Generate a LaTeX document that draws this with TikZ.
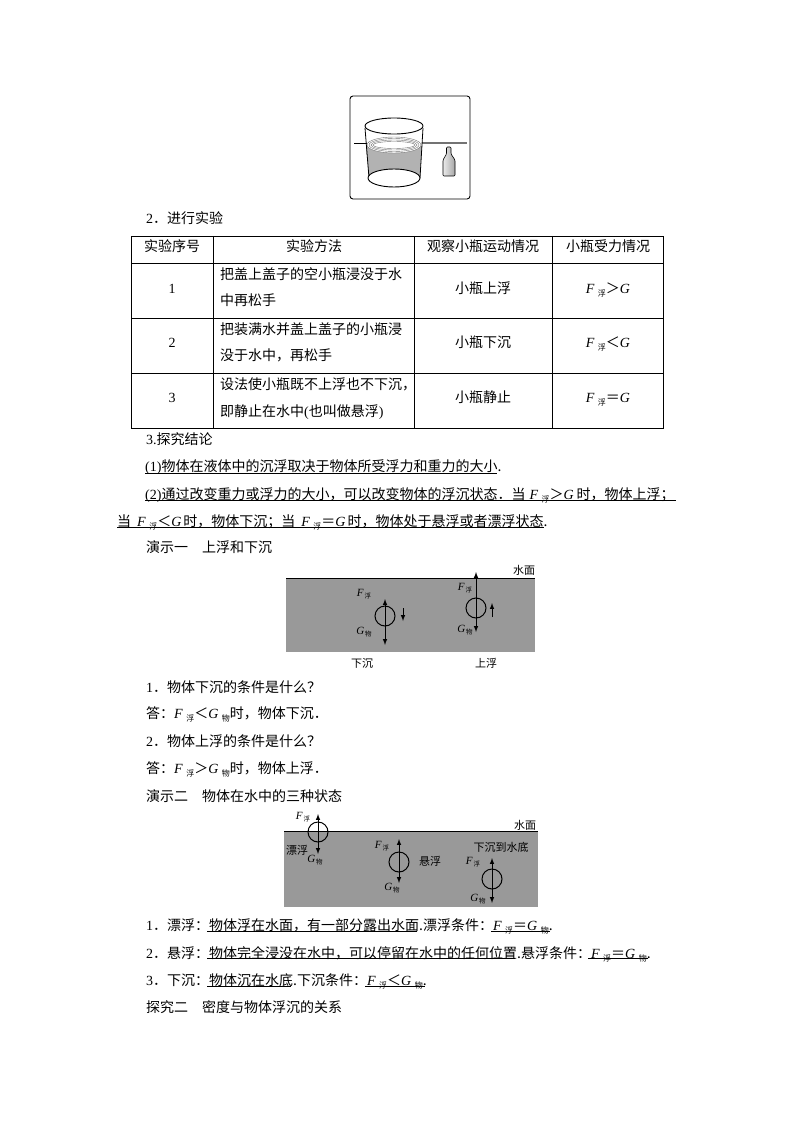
\documentclass[tikz,border=0pt]{standalone}
\usepackage{fontspec}
\setmainfont{Noto Sans CJK SC}
\newfontfamily\lat{Liberation Serif}
\usepackage{tikz}
\newcommand{\Lt}[1]{{\lat #1}}
\newcommand{\Fu}{{\lat\itshape F}\hspace{3.5pt}\raisebox{-3pt}{\fontsize{8}{8}\selectfont 浮}}
\newcommand{\Gv}{{\lat\itshape G}}
\newcommand{\Gw}{{\lat\itshape G}\hspace{3.5pt}\raisebox{-3pt}{\fontsize{8}{8}\selectfont 物}}
\newcommand{\Fs}{{\lat\itshape F}\hspace{1pt}\raisebox{-2pt}{\fontsize{6.5}{6.5}\selectfont 浮}}
\newcommand{\Gs}{{\lat\itshape G}\hspace{1pt}\raisebox{-2pt}{\fontsize{6.5}{6.5}\selectfont 物}}
\tikzset{
  body/.style={anchor=west,inner sep=0pt,text height=12pt,text depth=1pt,font=\fontsize{14}{14}\selectfont},
  cell/.style={inner sep=0pt,text height=12pt,text depth=1pt,font=\fontsize{14}{14}\selectfont},
  tag/.style={inner sep=0pt,font=\fontsize{11}{11}\selectfont},
  rul/.style={line width=0.9pt},
  water/.style={fill=black!40},
  ball/.style={circle,draw,line width=1pt,minimum size=20pt,inner sep=0pt},
  force/.style={line width=1pt,-latex},
  hint/.style={line width=1pt,-latex}
}
\begin{document}
\begin{tikzpicture}[x=1pt,y=-1pt]
\useasboundingbox (0,0) rectangle (794,1123);
% beaker
\draw[line width=0.9pt,rounded corners=3pt] (350,96) rectangle (470,199);
\shade[left color=black!30,middle color=white,right color=black!30] (366,146) -- (369,178) -- (420,178) -- (422,146) -- cycle;
\draw[line width=0.7pt] (354,143) -- (367,143);
\draw[black!55,line width=1.3pt] (422,143) -- (467,143);
\fill[white] (394,145) ellipse (27 and 8);
\foreach \ra/\rb in {27/8,25/6.5,23/5,21/3.5}
  \draw[black!55,line width=0.4pt] (394,145) ellipse [x radius=\ra,y radius=\rb];
\draw[line width=0.9pt] (394,126) ellipse (29 and 8);
\draw[line width=0.8pt] (365,128) -- (369,178);
\draw[line width=0.8pt] (423,128) -- (420,178);
\draw[fill=white,line width=0.9pt] (394,178) ellipse (26 and 9);
% bottle
\shade[left color=black!8,right color=black!35,draw=black,line width=0.6pt,rounded corners=1pt] (446.5,147) -- (451,147) -- (451,154) -- (455,160) -- (455,176) -- (443,176) -- (443,160) -- (446.5,154) -- cycle;
% table
\draw[rul] (131,236) rectangle (663,428);
\foreach \ypos in {263,318,373}
  \draw[rul] (131,\ypos) -- (663,\ypos);
\foreach \xpos in {213,414,552}
  \draw[rul] (\xpos,236) -- (\xpos,428);
\node[body] (head) at (146,218) {\Lt{2}．进行实验};
\node[cell] (th1) at (172,246) {实验序号};
\node[cell] (th2) at (314,246) {实验方法};
\node[cell] (th3) at (483,246) {观察小瓶运动情况};
\node[cell] (th4) at (608,246) {小瓶受力情况};
\node[cell] (no1) at (172,288) {\Lt{1}};
\node[cell] (no2) at (172,342) {\Lt{2}};
\node[cell] (no3) at (172,397) {\Lt{3}};
\node[body] (way1a) at (220,274) {把盖上盖子的空小瓶浸没于水};
\node[body] (way1b) at (220,300) {中再松手};
\node[body] (way2a) at (220,329) {把装满水并盖上盖子的小瓶浸};
\node[body] (way2b) at (220,355) {没于水中，再松手};
\node[body] (way3a) at (220,384) {设法使小瓶既不上浮也不下沉，};
\node[body] (way3b) at (220,411) {即静止在水中\Lt{(}也叫做悬浮\Lt{)}};
\node[cell] (see1) at (483,288) {小瓶上浮};
\node[cell] (see2) at (483,342) {小瓶下沉};
\node[cell] (see3) at (483,397) {小瓶静止};
\node[cell] (res1) at (608,288) {\Fu＞\Gv};
\node[cell] (res2) at (608,342) {\Fu＜\Gv};
\node[cell] (res3) at (608,397) {\Fu＝\Gv};
% conclusions
\node[body] (lineA) at (146,439) {\Lt{3.}探究结论};
\node[body] (lineB) at (145,466) {\Lt{(1)}物体在液体中的沉浮取决于物体所受浮力和重力的大小.};
\node[body] (lineC) at (145,494) {\Lt{(2)}通过改变重力或浮力的大小，可以改变物体的浮沉状态．当\hspace{4pt}\Fu＞\Gv\hspace{3pt}时，物体上浮；};
\node[body] (lineD) at (117,521) {当\hspace{6pt}\Fu＜\Gv\hspace{2pt}时，物体下沉；当\hspace{6pt}\Fu＝\Gv\hspace{2pt}时，物体处于悬浮或者漂浮状态.};
\node[body] (lineE) at (146,547) {演示一\quad 上浮和下沉};
\draw[rul] (145,473) -- (497,473);
\draw[rul] (145,500) -- (676,500);
\draw[rul] (117,527) -- (544,527);
% first water picture
\fill[water] (286,578) rectangle (535,652);
\draw[line width=1pt] (286,578) -- (535,578);
\node[ball] (sinkball) at (385,616) {};
\node[ball] (riseball) at (476,608) {};
\coordinate (sinkup) at (385,599);
\coordinate (sinkdown) at (385,645);
\coordinate (riseup) at (476,572);
\coordinate (risedown) at (476,632);
\draw[force] (sinkball.center) -- (sinkup);
\draw[force] (sinkball.center) -- (sinkdown);
\draw[force] (riseball.center) -- (riseup);
\draw[force] (riseball.center) -- (risedown);
\draw[hint] (403,608) -- (403,621);
\draw[hint] (492,617) -- (492,603);
\node[tag] (fsink) at (364,594) {\Fs};
\node[tag] (gsink) at (364,632) {\Gs};
\node[tag] (frise) at (465,588) {\Fs};
\node[tag] (grise) at (465,630) {\Gs};
\node[tag] (surfA) at (524,570) {水面};
\node[tag] (capsink) at (362,663) {下沉};
\node[tag] (caprise) at (486,663) {上浮};
% questions
\node[body] (askA) at (146,687) {\Lt{1}．物体下沉的条件是什么？};
\node[body] (ansA) at (146,713) {答：\Fu＜\Gw 时，物体下沉．};
\node[body] (askB) at (146,741) {\Lt{2}．物体上浮的条件是什么？};
\node[body] (ansB) at (146,768) {答：\Fu＞\Gw 时，物体上浮．};
\node[body] (lineF) at (146,796) {演示二\quad 物体在水中的三种状态};
% second water picture
\fill[water] (284,831) rectangle (538,907);
\draw[line width=1pt] (284,831) -- (538,831);
\node[ball] (floatball) at (318,832) {};
\node[ball] (hangball) at (399,862) {};
\node[ball] (bedball) at (492,879) {};
\coordinate (floatup) at (318,814);
\coordinate (floatdown) at (318,854);
\coordinate (hangup) at (399,839);
\coordinate (hangdown) at (399,883);
\coordinate (bedup) at (492,858);
\coordinate (beddown) at (492,903);
\foreach \b in {float,hang,bed}{
  \draw[force] (\b ball.center) -- (\b up);
  \draw[force] (\b ball.center) -- (\b down);
}
\node[tag] (ffloat) at (303,817) {\Fs};
\node[tag] (gfloat) at (315,860) {\Gs};
\node[tag] (fhang) at (382,846) {\Fs};
\node[tag] (ghang) at (392,888) {\Gs};
\node[tag] (fbed) at (473,862) {\Fs};
\node[tag] (gbed) at (478,899) {\Gs};
\node[tag] (capfloat) at (297,850) {漂浮};
\node[tag] (caphang) at (430,861) {悬浮};
\node[tag] (capbed) at (501,847) {下沉到水底};
\node[tag] (surfB) at (525,825) {水面};
% states
\node[body] (stateA) at (146,925) {\Lt{1}．漂浮：物体浮在水面，有一部分露出水面.漂浮条件：\Fu＝\Gw.};
\node[body] (stateB) at (146,953) {\Lt{2}．悬浮：物体完全浸没在水中，可以停留在水中的任何位置.悬浮条件：\Fu＝\Gw.};
\node[body] (stateC) at (146,980) {\Lt{3}．下沉：物体沉在水底.下沉条件：\Fu＜\Gw.};
\node[body] (lineG) at (146,1007) {探究二\quad 密度与物体浮沉的关系};
\draw[rul] (207,931) -- (417,931);
\draw[rul] (491,931) -- (550,931);
\draw[rul] (207,958) -- (515,958);
\draw[rul] (588,958) -- (648,958);
\draw[rul] (207,986) -- (291,986);
\draw[rul] (365,986) -- (425,986);
\end{tikzpicture}
\end{document}
